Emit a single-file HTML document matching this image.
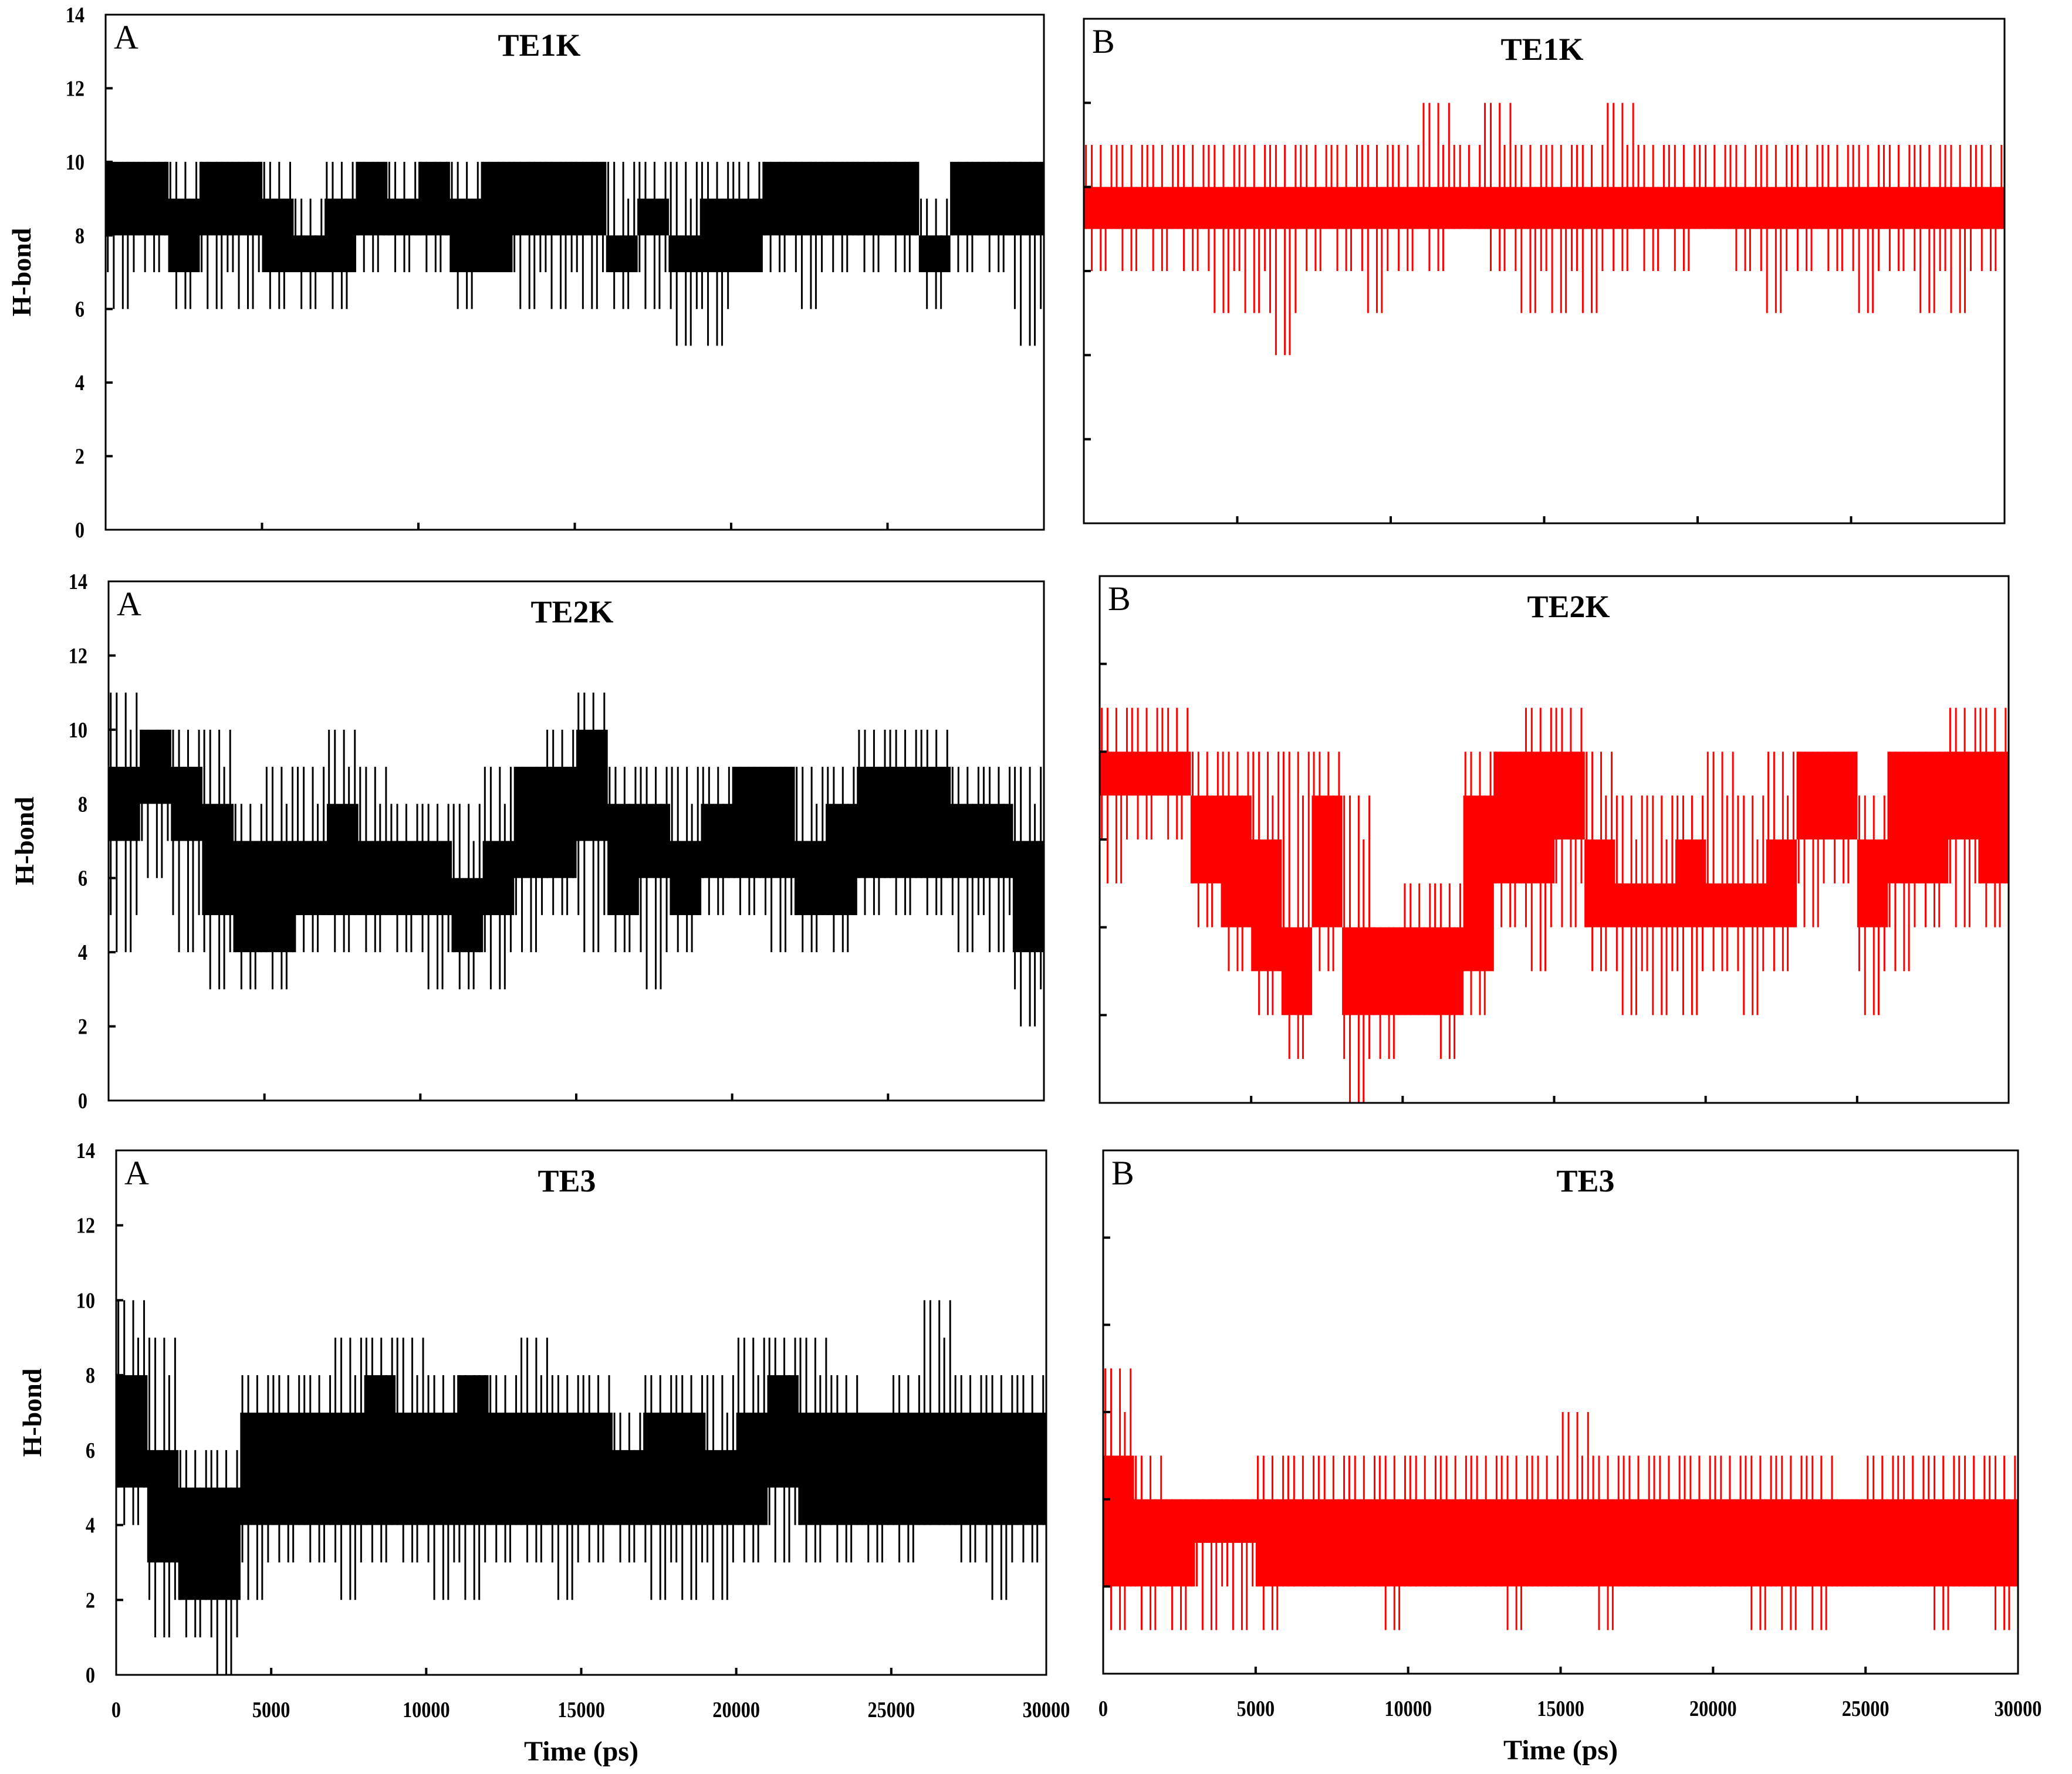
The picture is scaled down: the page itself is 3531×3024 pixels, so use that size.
<!DOCTYPE html>
<html><head><meta charset="utf-8"><style>
html,body{margin:0;padding:0;background:#fff;}
svg{display:block;}
text{font-family:"Liberation Serif",serif;}
</style></head><body>
<svg id="fig" width="3531" height="3024" viewBox="0 0 3531 3024" xmlns="http://www.w3.org/2000/svg"></svg>
<script>
// ---- data: 30 bins of 1000 ps each ----
const timeTicks = [0,5000,10000,15000,20000,25000,30000];
const tickLabelsY = [0,2,4,6,8,10,12,14];
// A1 TE1K
const a1Lo  = [8,8,7,8,8,7,7,7,8,8,8,7,7,8,8,8,7,8,7,7,7,8,8,8,8,8,7,8,8,8];
const a1Hi  = [10,10,9,10,10,9,8,9,10,9,10,9,10,10,10,10,8,9,8,9,9,10,10,10,10,10,8,10,10,10];
const a1Min = [6,7,6,6,6,6,6,6,7,7,7,6,7,6,6,6,6,6,5,5,7,7,6,7,7,7,6,7,7,5];
const a1Max = [10,10,10,10,10,10,9,10,10,10,10,10,10,10,10,10,10,10,10,10,10,10,10,10,10,10,9,10,10,10];
// B1 TE1K
const b1Lo  = [7,7,7,7,7,7,7,7,7,7,7,7,7,7,7,7,7,7,7,7,7,7,7,7,7,7,7,7,7,7];
const b1Hi  = [8,8,8,8,8,8,8,8,8,8,8,8,8,8,8,8,8,8,8,8,8,8,8,8,8,8,8,8,8,8];
const b1Min = [6,6,6,6,5,5,4,6,6,5,6,6,7,6,5,5,5,6,6,6,7,6,5,6,6,5,6,5,5,6];
const b1Max = [9,9,9,9,9,9,9,9,9,9,9,10,9,10,9,9,9,10,9,9,9,9,9,9,9,9,9,9,9,9];
// A2 TE2K
const a2Lo  = [7,8,7,5,4,4,5,5,5,5,5,4,5,6,6,7,5,6,5,6,6,6,5,5,6,6,6,6,6,4];
const a2Hi  = [9,10,9,8,7,7,7,8,7,7,7,6,7,9,9,10,8,8,7,8,9,9,7,8,9,9,9,8,8,7];
const a2Min = [4,6,4,3,3,3,4,4,4,4,3,3,3,4,5,4,4,3,4,5,5,4,4,4,5,5,5,4,4,2];
const a2Max = [11,10,10,10,8,9,9,10,9,8,8,8,9,9,10,11,9,9,9,9,9,9,9,9,10,10,10,9,9,9];
// B2 TE2K
const b2Lo  = [7,7,7,5,4,3,2,4,2,2,2,2,3,5,5,6,4,4,4,4,4,4,4,6,6,4,5,5,6,5];
const b2Hi  = [8,8,8,7,7,6,4,7,4,4,4,4,7,8,8,8,6,5,5,6,5,5,6,8,8,6,8,8,8,8];
const b2Min = [5,6,6,4,3,2,1,3,0,1,2,1,2,4,3,4,3,2,2,2,3,2,3,4,5,2,3,4,4,4];
const b2Max = [9,9,9,8,8,8,8,8,7,4,5,5,8,8,9,9,8,7,7,7,8,7,8,8,8,7,8,8,9,9];
// A3 TE3
const a3Lo  = [5,3,2,2,4,4,4,4,4,4,4,4,4,4,4,4,4,4,4,4,4,5,4,4,4,4,4,4,4,4];
const a3Hi  = [8,6,5,5,7,7,7,7,8,7,7,8,7,7,7,7,6,7,7,6,7,8,7,7,7,7,7,7,7,7];
const a3Min = [4,1,1,0,2,3,3,2,3,3,2,2,3,3,2,3,3,2,2,2,3,3,3,3,3,3,4,3,2,3];
const a3Max = [10,9,6,6,8,8,8,9,9,9,8,8,8,9,8,8,7,8,8,8,9,9,9,8,7,8,10,8,8,8];
// B3 TE3
const b3Lo  = [2,2,2,3,3,2,2,2,2,2,2,2,2,2,2,2,2,2,2,2,2,2,2,2,2,2,2,2,2,2];
const b3Hi  = [5,4,4,4,4,4,4,4,4,4,4,4,4,4,4,4,4,4,4,4,4,4,4,4,4,4,4,4,4,4];
const b3Min = [1,1,1,1,1,1,2,2,2,1,2,2,2,1,2,2,1,2,2,2,2,1,1,1,2,2,2,1,2,1];
const b3Max = [7,5,4,4,4,5,5,5,5,5,5,5,5,5,5,6,5,5,5,5,5,5,5,5,4,5,5,5,5,5];

const NS = "http://www.w3.org/2000/svg";
const svg = document.getElementById('fig');
function mk(tag, attrs, parent){
  const e = document.createElementNS(NS, tag);
  for (const k in attrs) e.setAttribute(k, attrs[k]);
  (parent||svg).appendChild(e);
  return e;
}
const BIN = 1000;
const FR = [0.07,0.26,0.55,0.71,0.9];

function panel(p){
  const g = mk('g', {});
  
  
  const xs = t => p.x0 + (t/30000)*(p.x1-p.x0);
  const ys = v => p.y0 - (v/p.ymax)*(p.y0-p.yTop);
  const series = mk('g', {}, g);
  
  
  for (let i=0;i<p.lo.length;i++){
    const xa = xs(i*BIN), xb = xs((i+1)*BIN);
    const r = mk('rect', {x:xa, y:ys(p.hi[i]), width:(xb-xa)+0.6, height:ys(p.lo[i])-ys(p.hi[i]), fill:p.color}, series);
    
    
    FR.forEach((f,j)=>{
      const x = xa + f*(xb-xa);
      const top = (j%2===0) ? p.max[i] : Math.max(p.hi[i], p.max[i]-((j===1)?0:1));
      const bot = (j%2===1) ? p.min[i] : Math.min(p.lo[i], p.min[i]+((j===2)?0:1));
      const l = mk('line', {x1:x, x2:x, y1:ys(top), y2:ys(bot), stroke:p.color, 'stroke-width':3}, series);
      
      
    });
  }
  const fr = mk('rect', {x:p.x0, y:p.yTop, width:p.x1-p.x0, height:p.y0-p.yTop, fill:'none', stroke:'#000', 'stroke-width':3}, g);
  
  
  for (let v=p.ytick; v<p.ymax; v+=p.ytick){
    const t = mk('line', {x1:p.x0, x2:p.x0+12, y1:ys(v), y2:ys(v), stroke:'#000', 'stroke-width':4}, g);
    
    
  }
  if (p.ylabels){
    tickLabelsY.forEach(v=>{
      const t = mk('text', {x:0, y:0, 'text-anchor':'end', 'font-size':38, 'font-weight':'bold', transform:`translate(${p.x0-36},${ys(v)+13}) scale(0.85,1)`}, g);
      
      
      t.textContent = v;
    });
    const yl = mk('text', {x:0, y:0, 'text-anchor':'middle', 'font-size':46, 'font-weight':'bold', transform:`translate(${p.x0-128},${(p.y0+p.yTop)/2}) rotate(-90)`}, g);
    
    
    yl.textContent = 'H-bond';
  }
  timeTicks.slice(1,-1).forEach(t=>{
    const l = mk('line', {x1:xs(t), x2:xs(t), y1:p.y0, y2:p.y0-12, stroke:'#000', 'stroke-width':4}, g);
    
    
  });
  if (p.xlabels){
    timeTicks.forEach(t=>{
      const tx = mk('text', {x:0, y:0, 'text-anchor':'middle', 'font-size':38, 'font-weight':'bold', transform:`translate(${xs(t)},${p.y0+72}) scale(0.85,1)`}, g);
      
      
      tx.textContent = t;
    });
    const xl = mk('text', {x:(p.x0+p.x1)/2, y:p.y0+146, 'text-anchor':'middle', 'font-size':48, 'font-weight':'bold'}, g);
    
    
    xl.textContent = 'Time (ps)';
  }
  const letter = mk('text', {x:p.x0+14, y:p.yTop+58, 'font-size':58}, g);
  
  
  letter.textContent = p.letter;
  const title = mk('text', {x:p.tx, y:p.yTop+70, 'text-anchor':'middle', 'font-size':54, 'font-weight':'bold'}, g);
  
  
  title.textContent = p.title;
}

panel({name:'panel-a-te1k', x0:180, x1:1779, yTop:25, y0:903, ymax:14, ytick:2, lo:a1Lo, hi:a1Hi, min:a1Min, max:a1Max, color:'#000', ylabels:true, xlabels:false, letter:'A', title:'TE1K', tx:919});
panel({name:'panel-b-te1k', x0:1847, x1:3416, yTop:32, y0:892, ymax:12, ytick:2, lo:b1Lo, hi:b1Hi, min:b1Min, max:b1Max, color:'#ff0000', ylabels:false, xlabels:false, letter:'B', title:'TE1K', tx:2628});
panel({name:'panel-a-te2k', x0:185, x1:1779, yTop:991, y0:1876, ymax:14, ytick:2, lo:a2Lo, hi:a2Hi, min:a2Min, max:a2Max, color:'#000', ylabels:true, xlabels:false, letter:'A', title:'TE2K', tx:975});
panel({name:'panel-b-te2k', x0:1874, x1:3423, yTop:982, y0:1880, ymax:12, ytick:2, lo:b2Lo, hi:b2Hi, min:b2Min, max:b2Max, color:'#ff0000', ylabels:false, xlabels:false, letter:'B', title:'TE2K', tx:2673});
panel({name:'panel-a-te3', x0:198, x1:1783, yTop:1961, y0:2855, ymax:14, ytick:2, lo:a3Lo, hi:a3Hi, min:a3Min, max:a3Max, color:'#000', ylabels:true, xlabels:true, letter:'A', title:'TE3', tx:966});
panel({name:'panel-b-te3', x0:1880, x1:3439, yTop:1961, y0:2853, ymax:12, ytick:2, lo:b3Lo, hi:b3Hi, min:b3Min, max:b3Max, color:'#ff0000', ylabels:false, xlabels:true, letter:'B', title:'TE3', tx:2702});
</script>
</body></html>
